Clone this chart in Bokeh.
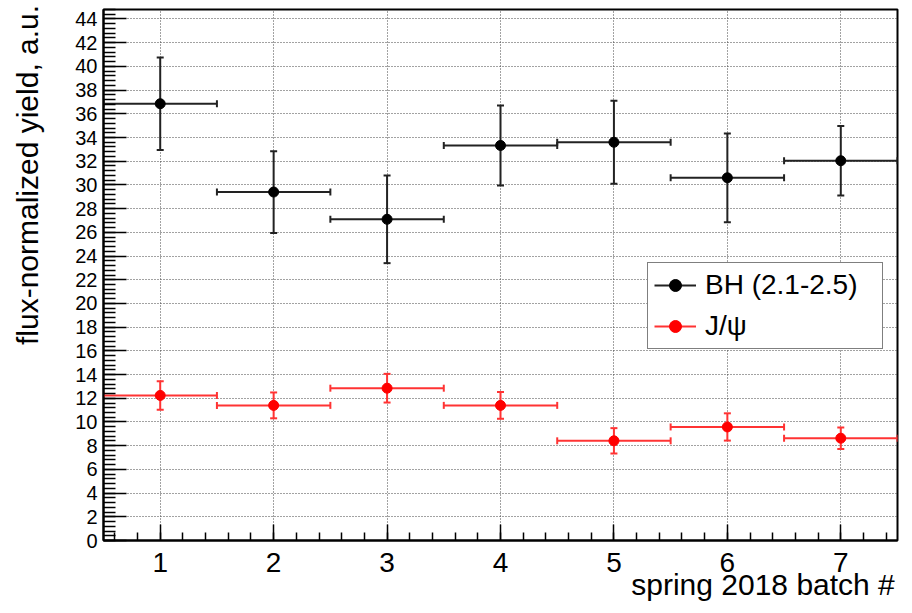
import numpy as np
from bokeh.plotting import figure
from bokeh.models import (ColumnDataSource, Legend, LegendItem,
                          SingleIntervalTicker, Range1d)
from bokeh.embed import file_html
from bokeh.resources import INLINE

# ---- data ----
batch = [1, 2, 3, 4, 5, 6, 7]
batch_halfwidth = [0.5, 0.5, 0.5, 0.5, 0.5, 0.5, 0.5]
bh_yield = [36.85, 29.4, 27.1, 33.33, 33.6, 30.6, 32.04]
bh_err = [3.9, 3.45, 3.7, 3.38, 3.5, 3.74, 2.93]
jpsi_yield = [12.24, 11.4, 12.85, 11.4, 8.41, 9.58, 8.63]
jpsi_err = [1.2, 1.09, 1.21, 1.13, 1.07, 1.15, 0.9]
legend_labels = ["BH (2.1-2.5)", "J/\u03c8"]
x_title = "spring 2018 batch #"
y_title = "flux-normalized yield, a.u."
x_range = (0.5, 7.5)
y_range = (0.0, 44.8)
FONT = "Liberation Sans"
NBSP = "\u00a0"

p = figure(width=912, height=613, output_backend="svg", toolbar_location=None,
           x_range=Range1d(*x_range), y_range=Range1d(*y_range),
           min_border_left=103, min_border_right=15, min_border_top=9,
           min_border_bottom=73)
p.background_fill_color = "white"
p.border_fill_color = "white"
p.outline_line_color = "black"
p.outline_line_width = 2

p.xaxis.ticker = SingleIntervalTicker(interval=1, num_minor_ticks=5)
p.yaxis.ticker = SingleIntervalTicker(interval=2, num_minor_ticks=5)
for ax in (p.xaxis, p.yaxis):
    ax.axis_line_color = "black"
    ax.axis_line_width = 2
    ax.major_tick_line_color = "black"
    ax.minor_tick_line_color = "black"
    ax.major_tick_line_width = 1.5
    ax.minor_tick_line_width = 1.5
    ax.major_tick_out = 0
    ax.minor_tick_out = 0
    ax.major_label_text_color = "black"
    ax.major_label_text_font = FONT
    ax.axis_label_text_font = FONT
    ax.axis_label_text_font_style = "normal"
    ax.axis_label_text_font_size = "30px"
    ax.axis_label_text_color = "black"
p.xaxis.major_tick_in = 16
p.xaxis.minor_tick_in = 8
p.yaxis.major_tick_in = 23
p.yaxis.minor_tick_in = 12
p.xaxis.major_label_text_font_size = "28px"
p.yaxis.major_label_text_font_size = "20px"
p.xaxis.major_label_standoff = 12
p.yaxis.major_label_standoff = 6

# Axis titles are centred on the axis; leading no-break spaces push the
# visible text to the far end of the axis (ROOT style), staying inside the page.
p.xaxis.axis_label = NBSP * 63 + x_title
p.yaxis.axis_label = NBSP * 24 + y_title
p.xaxis.axis_label_standoff = -7
p.yaxis.axis_label_standoff = 28

for g in (p.xgrid, p.ygrid):
    g.grid_line_color = "#444444"
    g.grid_line_dash = "1 2"
    g.grid_line_width = 1


def draw_series(xs, ys, xe, ye, line_color, marker_color):
    xs = np.array(xs, float); ys = np.array(ys, float)
    xe = np.array(xe, float); ye = np.array(ye, float)
    src = ColumnDataSource(dict(x=xs, y=ys, xl=xs - xe, xr=xs + xe,
                                yl=ys - ye, yh=ys + ye))
    h = p.segment(x0="xl", y0="y", x1="xr", y1="y", source=src,
                  line_color=line_color, line_width=2)
    p.segment(x0="x", y0="yl", x1="x", y1="yh", source=src,
              line_color=line_color, line_width=2)
    for yc in ("yl", "yh"):
        p.scatter(x="x", y=yc, source=src, marker="dash", size=7,
                  line_color=line_color, line_width=2)
    for xc in ("xl", "xr"):
        p.scatter(x=xc, y="y", source=src, marker="dash", size=7,
                  angle=np.pi / 2, line_color=line_color, line_width=2)
    m = p.scatter(x="x", y="y", source=src, marker="circle", size=10,
                  fill_color=marker_color, line_color=marker_color)
    return h, m


bh_h, bh_m = draw_series(batch, bh_yield, batch_halfwidth, bh_err, "#222222", "black")
jp_h, jp_m = draw_series(batch, jpsi_yield, batch_halfwidth, jpsi_err, "#ff3333", "red")

legend = Legend(items=[LegendItem(label=legend_labels[0], renderers=[bh_h, bh_m]),
                       LegendItem(label=legend_labels[1], renderers=[jp_h, jp_m])],
                location=(544, 191))
legend.border_line_color = "black"
legend.border_line_width = 1.5
legend.background_fill_color = "white"
legend.background_fill_alpha = 1.0
legend.label_text_font = FONT
legend.label_text_font_size = "28px"
legend.label_text_color = "black"
legend.glyph_width = 42
legend.glyph_height = 30
legend.label_height = 30
legend.label_width = 171
legend.label_standoff = 9
legend.spacing = 9
legend.padding = 6
legend.margin = 0
p.add_layout(legend, "center")

open("out.html", "w").write(file_html(p, INLINE))
